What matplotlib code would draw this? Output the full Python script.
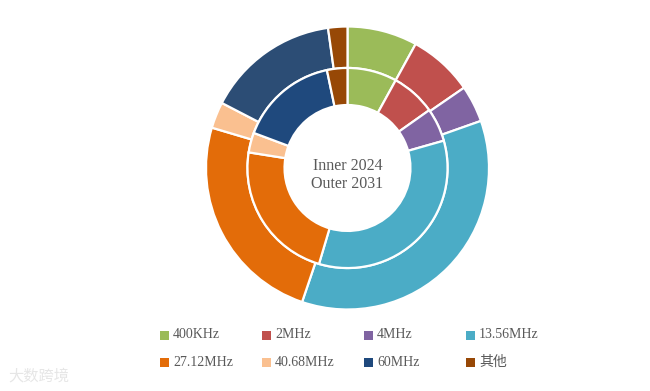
import matplotlib
matplotlib.use('Agg')
from matplotlib import pyplot as plt
from matplotlib.patches import Rectangle

# Frequency segments, share in %
labels = ['400KHz', '2MHz', '4MHz', '13.56MHz',
          '27.12MHz', '40.68MHz', '60MHz', '其他']
inner_2024 = [8.0, 7.2, 5.4, 34.0, 22.9, 3.2, 16.0, 3.3]
outer_2031 = [8.0, 7.4, 4.2, 35.6, 24.4, 3.0, 15.2, 2.2]

colors_inner = ['#9BBB59', '#C0504D', '#8064A2', '#4BACC6',
                '#E36C09', '#FAC090', '#1F497D', '#974806']
colors_outer = ['#9BBB59', '#C0504D', '#8064A2', '#4BACC6',
                '#E36C09', '#FAC090', '#2C4D75', '#974806']

W, H = 650, 391
plt.rcParams['font.family'] = ['Liberation Serif', 'Noto Sans CJK SC']

fig = plt.figure(figsize=(W/100, H/100), dpi=100)

# pie centre (347.5, 168) px, outer radius 141.5 px
cx, cy, r = 347.5, 168, 141.5
ax = fig.add_axes([(cx - r)/W, (H - cy - r)/H, 2*r/W, 2*r/H])

wp = dict(edgecolor='white', linewidth=1.6)
ax.pie(outer_2031, radius=1.0, colors=colors_outer, startangle=90,
       counterclock=False, wedgeprops=dict(width=0.293, **wp))
ax.pie(inner_2024, radius=0.707, colors=colors_inner, startangle=90,
       counterclock=False, wedgeprops=dict(width=0.262, **wp))
ax.set_xlim(-1, 1)
ax.set_ylim(-1, 1)
ax.set_aspect('equal')
ax.axis('off')

# centre label sits a little below the pie centre
fig.text(cx/W, (H - 175)/H, 'Inner 2024\nOuter 2031', ha='center',
         va='center', fontsize=11.5, color='#595959', linespacing=1.2)

# legend, 4 columns x 2 rows
for i, lab in enumerate(labels):
    row, col = divmod(i, 4)
    x = 160 + 102*col
    y = 335 + 27*row
    fig.add_artist(Rectangle((x/W, (H - y - 4.5)/H), 9/W, 9/H,
                             transform=fig.transFigure,
                             facecolor=colors_inner[i], edgecolor='none'))
    fig.text((x + 13)/W, (H - y)/H, lab, ha='left', va='center',
             fontsize=10, color='#595959')

# faint watermark
fig.text(8/W, (H - 376)/H, '大数跨境', fontsize=11, color='#E6E6E6',
         ha='left', va='center', family=['Noto Sans CJK SC'])

fig.savefig('out.png', dpi=100)
